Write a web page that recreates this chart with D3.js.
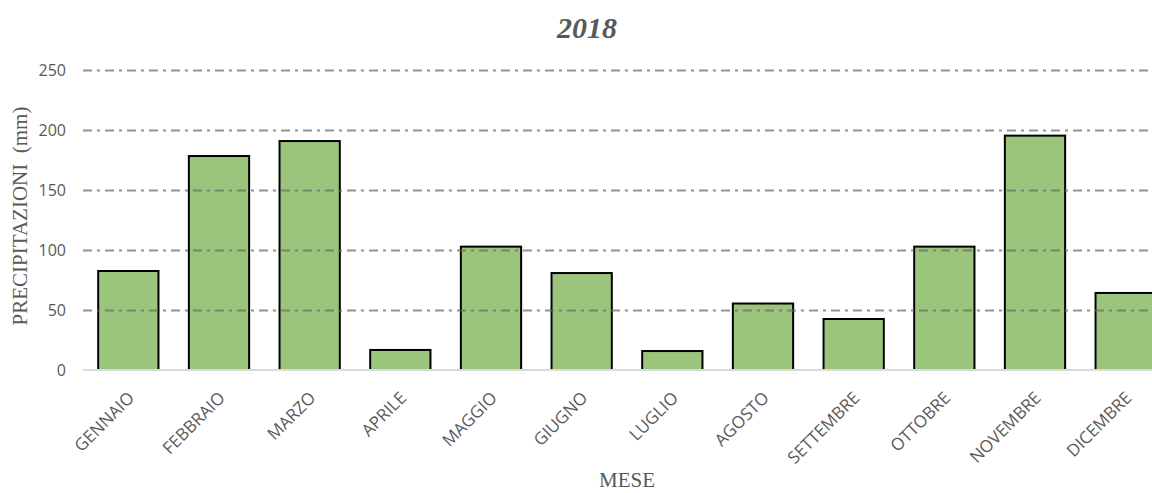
<!DOCTYPE html>
<html>
<head>
<meta charset="utf-8">
<script src="https://cdn.jsdelivr.net/npm/d3@7"></script>
<style>
  html, body { margin: 0; padding: 0; background: #fff; overflow: hidden; }
  svg { display: block; }
</style>
</head>
<body>
<script>
// Monthly rainfall, 2018
const months = ["GENNAIO", "FEBBRAIO", "MARZO", "APRILE", "MAGGIO", "GIUGNO",
                "LUGLIO", "AGOSTO", "SETTEMBRE", "OTTOBRE", "NOVEMBRE", "DICEMBRE"];
const rainfall = [82.5, 178.3, 190.8, 16.7, 102.8, 80.8, 15.8, 55.4, 42.5, 102.8, 195.3, 64.2];
const yTicks = [0, 50, 100, 150, 200, 250];

const W = 1152, H = 493;
const svg = d3.select("body").append("svg").attr("width", W).attr("height", H);

const plotLeft = 83, plotRight = 1171, plotTop = 70, plotBottom = 370;

const x = d3.scaleBand().domain(months).range([plotLeft, plotRight]).paddingInner(0.335).paddingOuter(0.1675);
const y = d3.scaleLinear().domain([0, 250]).range([plotBottom, plotTop]);

// bars
svg.append("g").selectAll("rect").data(months).join("rect")
  .attr("x", d => x(d))
  .attr("y", (d, i) => y(rainfall[i]))
  .attr("width", x.bandwidth())
  .attr("height", (d, i) => y(0) - y(rainfall[i]))
  .attr("fill", "#9bc47c")
  .attr("stroke", "#000")
  .attr("stroke-width", 2);

// dash-dot gridlines (drawn over the bars)
const grid = svg.append("g")
  .attr("transform", `translate(${plotLeft},0)`)
  .call(d3.axisLeft(y).tickValues(yTicks.filter(v => v > 0)).tickSize(-(plotRight - plotLeft)).tickFormat(""));
grid.select(".domain").remove();
grid.selectAll(".tick line")
  .attr("stroke", "#666")
  .attr("stroke-opacity", 0.7)
  .attr("stroke-width", 2)
  .attr("stroke-dasharray", "9,5,3,5");

// baseline
svg.append("line")
  .attr("x1", plotLeft).attr("x2", plotRight)
  .attr("y1", y(0)).attr("y2", y(0))
  .attr("stroke", "#d9d9d9").attr("stroke-width", 2);

// y tick labels
const yAxis = svg.append("g")
  .attr("transform", `translate(${plotLeft},0)`)
  .call(d3.axisLeft(y).tickValues(yTicks).tickSize(0).tickPadding(17));
yAxis.select(".domain").remove();
yAxis.selectAll("text")
  .attr("font-family", "'Open Sans', sans-serif")
  .attr("font-size", 16)
  .attr("fill", "#595959");

// x labels, rotated
const xAxis = svg.append("g")
  .attr("transform", `translate(0,${plotBottom})`)
  .call(d3.axisBottom(x).tickSize(0).tickPadding(0));
xAxis.select(".domain").remove();
xAxis.selectAll("text")
  .attr("font-family", "'Open Sans', sans-serif")
  .attr("font-size", 17)
  .attr("fill", "#595959")
  .attr("text-anchor", "end")
  .attr("dy", null)
  .attr("transform", "translate(7,29) rotate(-45)");

// title
svg.append("text")
  .attr("x", 587).attr("y", 38)
  .attr("text-anchor", "middle")
  .attr("font-family", "'Liberation Serif', 'Times New Roman', serif")
  .attr("font-size", 30)
  .attr("font-weight", "bold")
  .attr("font-style", "italic")
  .attr("fill", "#595959")
  .text("2018");

// axis titles
svg.append("text")
  .attr("x", (plotLeft + plotRight) / 2).attr("y", 487)
  .attr("text-anchor", "middle")
  .attr("font-family", "'Liberation Serif', 'Times New Roman', serif")
  .attr("font-size", 21)
  .attr("fill", "#595959")
  .text("MESE");

svg.append("text")
  .attr("transform", `translate(27,216) rotate(-90)`)
  .attr("text-anchor", "middle")
  .attr("font-family", "'Liberation Serif', 'Times New Roman', serif")
  .attr("font-size", 21)
  .attr("fill", "#595959")
  .attr("xml:space", "preserve")
  .style("white-space", "pre")
  .text("PRECIPITAZIONI  (mm)");
</script>
</body>
</html>
